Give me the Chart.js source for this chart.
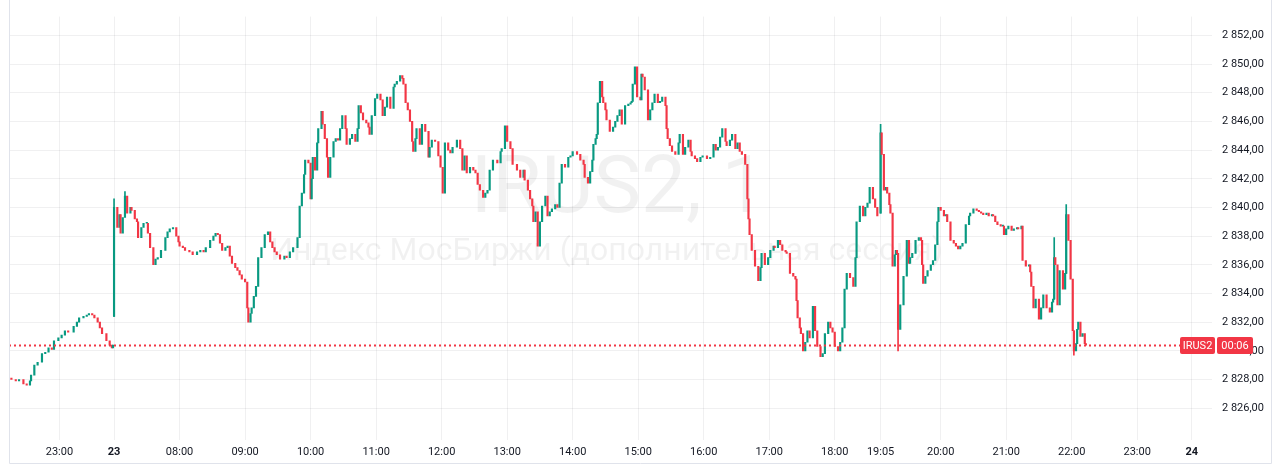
<!DOCTYPE html>
<html><head><meta charset="utf-8">
<script src="https://cdn.jsdelivr.net/npm/chart.js@4.4.0/dist/chart.umd.min.js"></script>
<style>html,body{margin:0;padding:0;background:#fff;}canvas{display:block;}</style>
</head><body>
<canvas id="c" width="1280" height="465"></canvas>
<script>
// trading-minute index (gaps between sessions removed), 0 = 23:00 on the 22nd
const times = [
-44,-40,-37,-33,-30,-27,-26,-23,-20,-16,
-13,-10,-7,-5,-1,2,5,8,13,16,
18,22,25,27,30,32,35,37,39,43,
46,48,49,
50,53,55,56,58,60,62,65,66,69,
71,72,75,77,80,81,83,86,88,90,
93,97,99,101,104,107,109,110,113,115,
119,122,126,129,132,134,138,141,143,145,
147,149,152,154,156,158,161,163,165,167,
170,172,173,175,176,178,180,182,185,188,
191,193,195,197,199,202,206,208,211,214,
218,220,222,224,225,228,230,231,232,234,
236,237,240,241,243,245,246,248,251,253,
255,257,259,262,263,266,268,271,273,274,
276,278,281,283,284,286,289,291,294,296,
298,300,303,306,307,309,312,314,315,317,
319,321,323,324,326,327,330,332,335,338,
339,341,344,347,349,351,353,356,358,360,
364,367,369,371,373,376,379,381,383,385,
388,390,392,394,397,401,404,405,408,410,
413,415,419,422,425,426,429,431,433,434,
436,438,440,442,445,447,449,451,454,456,
458,460,463,466,468,470,474,477,480,481,
484,486,488,489,491,492,493,495,497,498,
500,501,504,507,509,511,513,515,518,521,
523,524,525,527,529,532,533,534,536,539,
541,543,545,548,550,552,555,556,557,559,
561,564,567,568,571,573,576,578,579,582,
584,587,589,593,596,599,601,603,605,607,
610,611,614,616,619,621,623,625,628,630,
631,632,634,637,640,642,643,646,649,651,
654,655,658,660,662,665,666,669,672,674,
675,676,678,679,681,683,685,687,690,692,
694,697,699,701,704,706,708,710,713,715,
717,719,721,724,727,729,730,733,736,738,
740,742,745,747,749,
752,753,755,757,758,760,761,763,765,766,
767,768,770,773,776,778,779,781,784,787,
789,790,791,793,795,798,800,802,804,805,
807,810,812,813,816,819,821,823,825,827,
830,833,834,837,840,842,844,846,849,851,
854,855,857,859,862,864,865,867,869,872,
874,877,878,881,882,885,888,889,890,892,
894,897,899,901,904,907,909,910,911,912,
914,916,919,921,922,924,926,928,929,931,
932,933,935,937,939,940
];
const closes = [
2828.0,2827.9,2828.0,2827.7,2827.6,2827.9,2828.3,2829.0,2829.2,2829.8,
2829.9,2830.2,2830.1,2830.7,2830.9,2831.1,2831.4,2831.3,2831.7,2832.0,
2832.3,2832.4,2832.5,2832.6,2832.5,2832.3,2832.0,2831.6,2831.2,2830.7,
2830.4,2830.2,2830.4,
2840.0,2838.6,2839.5,2838.2,2839.3,2840.8,2839.6,2840.0,2839.8,2839.2,
2839.0,2837.9,2838.6,2838.9,2838.9,2838.2,2837.2,2836.0,2836.4,2836.5,
2837.0,2837.9,2838.3,2838.5,2838.6,2838.0,2837.6,2837.3,2837.2,2837.0,
2836.9,2836.7,2836.9,2837.0,2836.9,2837.2,2837.7,2838.0,2838.2,2838.1,
2837.5,2837.0,2837.2,2837.3,2836.6,2836.1,2835.8,2835.6,2835.3,2835.0,
2834.8,2833.0,2832.0,2832.6,2833.0,2833.8,2834.5,2836.5,2837.2,2838.1,
2838.3,2837.6,2837.2,2836.9,2836.7,2836.4,2836.6,2836.5,2836.9,2837.2,
2837.9,2840.1,2841.0,2842.3,2843.3,2843.1,2840.6,2842.0,2843.5,2842.6,
2844.5,2845.5,2846.7,2845.8,2844.8,2843.5,2842.1,2843.5,2844.6,2844.8,
2844.7,2845.5,2846.4,2845.5,2844.4,2844.8,2845.1,2844.6,2845.5,2847.1,
2846.6,2846.1,2845.9,2845.6,2845.1,2846.4,2847.6,2847.9,2847.5,2846.4,
2847.0,2847.7,2846.9,2848.4,2848.6,2848.8,2849.2,2849.0,2848.6,2847.3,
2846.8,2846.0,2844.6,2843.9,2844.8,2845.5,2844.4,2845.8,2845.3,2843.5,
2844.2,2844.7,2844.6,2843.6,2842.8,2841.0,2844.5,2844.0,2843.8,2844.2,
2844.7,2844.1,2842.6,2843.6,2842.4,2842.8,2842.6,2842.4,2841.6,2841.2,
2840.7,2841.0,2841.2,2842.6,2843.3,2843.1,2843.9,2844.1,2845.7,2844.6,
2844.1,2843.0,2842.6,2842.1,2842.6,2841.9,2841.2,2840.6,2840.1,2839.0,
2839.7,2837.3,2839.0,2840.1,2840.8,2839.4,2839.7,2839.9,2840.2,2840.0,
2841.7,2843.0,2842.8,2843.5,2843.6,2843.9,2843.7,2843.3,2843.0,2842.1,
2841.7,2842.5,2843.3,2844.4,2844.8,2845.1,2847.3,2848.8,2847.7,2847.3,
2846.8,2846.1,2845.3,2845.6,2846.0,2846.4,2846.8,2845.8,2847.1,2847.2,
2847.3,2847.4,2848.6,2849.8,2847.7,2847.5,2849.3,2849.1,2848.2,2846.1,
2846.8,2847.3,2847.9,2847.3,2847.4,2847.7,2847.1,2845.5,2844.8,2844.3,
2843.9,2843.7,2844.5,2845.1,2843.7,2844.2,2844.7,2843.9,2843.6,2843.4,
2843.2,2843.5,2843.6,2843.4,2843.5,2844.4,2844.0,2844.2,2844.9,2845.5,
2844.6,2844.3,2844.7,2845.1,2844.1,2844.5,2843.9,2843.7,2843.0,2840.6,
2839.2,2838.1,2837.0,2835.9,2834.9,2835.8,2836.8,2836.0,2836.5,2837.0,
2837.3,2837.2,2837.7,2837.4,2837.0,2836.9,2836.8,2835.4,2835.2,2835.0,
2833.5,2832.3,2831.6,2831.2,2830.0,2830.6,2831.4,2830.9,2833.1,2831.4,
2830.3,2829.6,2829.8,2831.2,2832.0,2831.6,2831.3,2830.3,2830.0,2830.6,
2831.6,2834.3,2835.4,2835.1,2834.5,2836.5,2839.0,2840.1,2839.4,2840.0,
2840.3,2841.4,2840.6,2840.0,2839.4,
2845.2,2843.7,2841.2,2841.4,2841.0,2840.2,2839.6,2835.9,2836.7,2837.0,
2836.8,2831.5,2833.2,2835.2,2837.7,2836.1,2836.5,2836.8,2837.7,2837.9,
2837.7,2836.0,2834.7,2835.2,2835.6,2836.0,2836.3,2837.4,2839.0,2840.0,
2839.8,2839.4,2839.5,2839.0,2837.7,2837.5,2837.3,2837.1,2837.3,2837.5,
2838.8,2839.4,2839.6,2839.9,2839.8,2839.7,2839.6,2839.5,2839.6,2839.4,
2839.5,2839.4,2839.0,2838.8,2838.7,2838.7,2838.1,2838.5,2838.7,2838.4,
2838.5,2838.6,2838.5,2838.7,2836.3,2835.9,2836.0,2835.5,2834.5,2833.0,
2833.6,2832.2,2833.0,2833.9,2833.0,2832.7,2833.4,2833.6,2836.5,2836.0,
2833.2,2835.6,2834.3,2835.4,2839.5,2837.7,2835.0,2831.4,2830.0,2830.5,
2831.5,2832.0,2831.0,2831.2,2830.5,2830.4
];
// session opening candles (open differs from previous close)
const gapTimes = [-44, 50, 752];
const gapOpens = [2828.1, 2832.4, 2839.6];
// notable wicks
const wickTimes = [50, 60, 752, 768, 911, 922, 929];
const wickLows  = [2832.4, 2839.6, 2839.6, 2830.0, 2833.6, 2835.4, 2829.7];
const wickHighs = [2840.6, 2841.1, 2845.8, 2836.8, 2837.9, 2840.2, 2831.4];

const xTickTimes  = [0, 50, 110, 170, 230, 290, 350, 410, 470, 530, 590, 650, 710, 752, 807, 867, 927, 987, 1037];
const xTickLabels = ['23:00','23','08:00','09:00','10:00','11:00','12:00','13:00','14:00','15:00','16:00','17:00','18:00','19:05','20:00','21:00','22:00','23:00','24'];
const boldTickLabels = ['23','24'];
const yTickValues = [2826,2828,2830,2832,2834,2836,2838,2840,2842,2844,2846,2848,2850,2852];

const symbolName = 'IRUS2';
const countdown = '00:06';
const titleText = 'IRUS2, 1';
const subtitleText = 'Индекс МосБиржи (дополнительная сессия)';

const UP = '#089981', DOWN = '#f23645';
const opens = closes.map((c, i) => {
  const g = gapTimes.indexOf(times[i]);
  return g >= 0 ? gapOpens[g] : closes[i - 1];
});
const bodies = times.map((t, i) => ({ x: t, y: [opens[i], closes[i]] }));
const bodyColors = closes.map((c, i) => c >= opens[i] ? UP : DOWN);
const wicks = wickTimes.map((t, i) => ({ x: t, y: [wickLows[i], wickHighs[i]] }));
const wickColors = wickTimes.map(t => bodyColors[times.indexOf(t)]);
const lastClose = closes[closes.length - 1];

Chart.defaults.font.family = 'Roboto, "Noto Sans", sans-serif';
const GRID = 'rgba(42,46,57,0.07)';
const TEXT = '#131722';

const fmtPrice = v => {
  const s = v.toFixed(2).replace('.', ',');
  return s.replace(/^(\d)(\d{3})/, '$1 $2');
};

const watermark = {
  id: 'watermark',
  beforeDatasetsDraw(chart) {
    const { ctx, chartArea: a } = chart;
    const cx = (a.left + a.right) / 2;
    ctx.save();
    ctx.fillStyle = 'rgba(0,0,0,0.055)';
    ctx.textAlign = 'center';
    ctx.textBaseline = 'alphabetic';
    ctx.font = '80px Roboto, sans-serif';
    ctx.fillText(titleText, cx + 8, a.top + 195);
    ctx.font = '32px Roboto, sans-serif';
    ctx.fillText(subtitleText, cx - 4, a.top + 243);
    ctx.restore();
  }
};

const priceLine = {
  id: 'priceLine',
  afterDraw(chart) {
    const { ctx, chartArea: a, scales } = chart;
    const y = Math.round(scales.y.getPixelForValue(lastClose)) + 0.5;
    ctx.save();
    ctx.strokeStyle = DOWN;
    ctx.lineWidth = 2;
    ctx.setLineDash([2, 3]);
    ctx.beginPath();
    ctx.moveTo(a.left, y);
    ctx.lineTo(a.right, y);
    ctx.stroke();
    ctx.setLineDash([]);
    const h = 17;
    const boxes = [
      { x: a.right - 32, w: 35, t: symbolName },
      { x: a.right + 5, w: 36, t: countdown }
    ];
    ctx.font = '11px Roboto, sans-serif';
    ctx.textAlign = 'center';
    ctx.textBaseline = 'middle';
    boxes.forEach(b => {
      ctx.fillStyle = DOWN;
      ctx.beginPath();
      if (ctx.roundRect) ctx.roundRect(b.x, y - h / 2, b.w, h, 2); else ctx.rect(b.x, y - h / 2, b.w, h);
      ctx.fill();
      ctx.fillStyle = '#ffffff';
      ctx.fillText(b.t, b.x + b.w / 2, y + 0.5);
    });
    ctx.strokeStyle = '#e0e3eb';
    ctx.lineWidth = 1;
    ctx.beginPath();
    ctx.moveTo(a.left + 0.5, 0); ctx.lineTo(a.left + 0.5, 463.5);
    ctx.lineTo(1271.5, 463.5); ctx.lineTo(1271.5, 0);
    ctx.stroke();
    ctx.restore();
  }
};

new Chart(document.getElementById('c'), {
  type: 'bar',
  data: {
    datasets: [
      { data: wicks, backgroundColor: wickColors, barThickness: 1, grouped: false, borderWidth: 0, order: 2 },
      { data: bodies, backgroundColor: bodyColors, barThickness: 1.5, grouped: false, borderWidth: 0, borderSkipped: false, minBarLength: 1, order: 1 }
    ]
  },
  options: {
    responsive: false,
    animation: false,
    devicePixelRatio: 1,
    layout: { padding: { left: 9, right: 0, top: 0, bottom: 0 } },
    plugins: { legend: { display: false }, tooltip: { enabled: false } },
    scales: {
      x: {
        type: 'linear',
        min: -46.2,
        max: 1055.5,
        offset: false,
        grid: { color: GRID, drawTicks: false, offset: false },
        border: { display: false },
        afterBuildTicks: s => { s.ticks = xTickTimes.map(v => ({ value: v })); },
        afterFit: s => { s.height = 25; },
        ticks: {
          autoSkip: false,
          maxRotation: 0,
          padding: 6,
          color: TEXT,
          font: c => ({ size: 11, weight: (c.tick && boldTickLabels.includes(xTickLabels[xTickTimes.indexOf(c.tick.value)])) ? 'bold' : 'normal' }),
          callback: v => xTickLabels[xTickTimes.indexOf(v)] ?? ''
        }
      },
      y: {
        position: 'right',
        min: 2823.78,
        max: 2853.31,
        grid: { color: GRID, drawTicks: false },
        border: { display: false },
        afterBuildTicks: s => { s.ticks = yTickValues.map(v => ({ value: v })); },
        afterFit: s => { s.width = 68; },
        ticks: { padding: 10, color: TEXT, font: { size: 11 }, callback: v => fmtPrice(v) }
      }
    }
  },
  plugins: [watermark, priceLine]
});
</script>
</body></html>
